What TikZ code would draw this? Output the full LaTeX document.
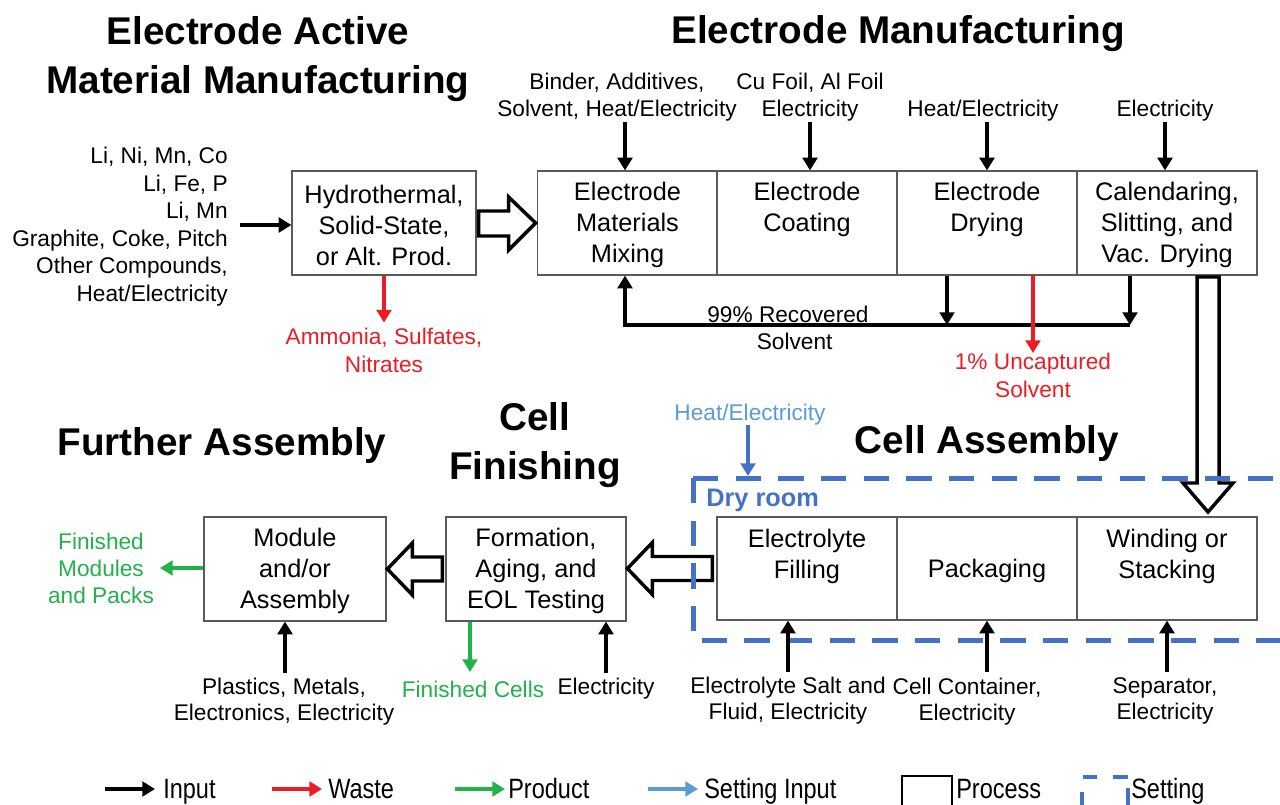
\documentclass[tikz,border=0pt]{standalone}
\usepackage{fontspec}
\setmainfont{Liberation Sans}
\newfontfamily\narrowfont[FakeStretch=0.84]{Liberation Sans}
\usetikzlibrary{arrows.meta}
\definecolor{wred}{RGB}{237,28,36}
\definecolor{pgreen}{RGB}{34,177,76}
\definecolor{sblue}{RGB}{68,114,196}
\definecolor{lblue}{RGB}{91,155,213}
\definecolor{boxgray}{RGB}{90,90,90}
\begin{document}
\begin{tikzpicture}[x=0.75pt,y=-0.75pt,
 title/.style={font=\fontsize{29}{36.75}\selectfont\bfseries, align=center, inner sep=0},
 body/.style={font=\fontsize{19}{23.25}\selectfont, align=center, inner sep=0},
 small/.style={font=\fontsize{17}{20.6}\selectfont, align=center, inner sep=0},
 legtext/.style={font=\narrowfont\fontsize{21}{24}\selectfont, anchor=base west, inner sep=0},
 proc/.style={draw=boxgray, line width=0.9pt, inner sep=0, minimum height=78pt, minimum width=135pt},
 flow/.style={line width=2.3pt, -{Triangle[length=9.5pt,width=11pt]}},
 inarrow/.style={flow, draw=black},
 wastearrow/.style={flow, draw=wred, color=wred},
 prodarrow/.style={flow, draw=pgreen, color=pgreen},
 setarrow/.style={flow, draw=sblue, color=sblue},
 legsetarrow/.style={flow, draw=lblue, color=lblue},
 hollow/.style={draw=black, line width=2.6pt, fill=white, line join=miter},
 setting/.style={draw=sblue, line width=3.75pt, dash pattern=on 19pt off 13pt}
]
\useasboundingbox (0,0) rectangle (1280,805);

% ---------- titles ----------
\node[title] (tEAM) at (258,59) {Electrode Active\\Material Manufacturing};
\node[title] (tEM) at (898,34) {Electrode Manufacturing};
\node[title] (tCA) at (987,444) {Cell Assembly};
\node[title] (tCF) at (535,445) {Cell\\Finishing};
\node[title] (tFA) at (222,446) {Further Assembly};

% ---------- process boxes (top row) ----------
\node[proc, minimum width=138pt] (hyd) at (384,223) {};
\node[proc] (mix) at (627.5,223) {};
\node[proc] (coat) at (807,223) {};
\node[proc] (dry) at (987,223) {};
\node[proc] (cal) at (1167,223) {};
\node[body] (hydT) at (384,225) {Hydrothermal,\\Solid-State,\\or Alt. Prod.};
\node[body] (mixT) at (627.5,225) {Electrode\\Materials\\Mixing};
\node[body] (coatT) at (807,209.5) {Electrode\\Coating};
\node[body] (dryT) at (987,209.5) {Electrode\\Drying};
\node[body] (calT) at (1167,225) {Calendaring,\\Slitting, and\\Vac. Drying};

% ---------- process boxes (bottom row) ----------
\node[proc, minimum height=77.25pt] (fill) at (807,568.5) {};
\node[proc, minimum height=77.25pt] (pack) at (987,568.5) {};
\node[proc, minimum height=77.25pt] (wind) at (1167,568.5) {};
\node[proc, minimum height=78pt] (form) at (536,569) {};
\node[proc, minimum height=78pt, minimum width=136.5pt] (mod) at (295,569) {};
\node[body] (fillT) at (807,556) {Electrolyte\\Filling};
\node[body] (packT) at (987,571) {Packaging};
\node[body] (windT) at (1167,556) {Winding or\\Stacking};
\node[body] (formT) at (536,571) {Formation,\\Aging, and\\EOL Testing};
\node[body] (modT) at (295,571) {Module\\and/or\\Assembly};

% ---------- left inputs ----------
\node[small, align=right, anchor=east] (leftIn) at (228,226.5)
 {Li, Ni, Mn, Co\\Li, Fe, P\\Li, Mn\\Graphite, Coke, Pitch\\Other Compounds,\\Heat/Electricity};
\coordinate (inL) at (240,225);
\draw[inarrow] (inL) -- (inL -| hyd.west);

% waste of hydrothermal
\node[small, text=wred] (ammo) at (384,350.5) {Ammonia, Sulfates,\\Nitrates};
\draw[wastearrow] (hyd.south) -- ++(0,47);

% hollow arrow hyd -> mix
\path (hyd.east) ++(2,0) coordinate (h1);
\draw[hollow] (h1) ++(0,-12) -- ++(30,0) -- ++(0,-14) -- ++(27,26) -- ++(-27,27) -- ++(0,-14) -- ++(-30,0) -- cycle;

% ---------- top inputs ----------
\node[small] (inMix) at (617,97) {Binder, Additives,\\Solvent, Heat/Electricity};
\node[small] (inCoat) at (810,97) {Cu Foil, Al Foil\\Electricity};
\node[small] (inDry) at (983,111) {Heat/Electricity};
\node[small] (inCal) at (1165,111) {Electricity};
\coordinate (a1) at (625,122);
\coordinate (a2) at (810,122);
\coordinate (a3) at (987,122);
\coordinate (a4) at (1165,122);
\draw[inarrow] (a1) -- (a1 |- mix.north);
\draw[inarrow] (a2) -- (a2 |- coat.north);
\draw[inarrow] (a3) -- (a3 |- dry.north);
\draw[inarrow] (a4) -- (a4 |- cal.north);

% ---------- solvent recovery ----------
\coordinate (r1) at (947,325);
\coordinate (r2) at (1130,325);
\coordinate (r0) at (625,325);
\draw[inarrow] (r1 |- dry.south) -- (r1);
\draw[inarrow] (r2 |- cal.south) -- (r2);
\draw[inarrow] (r2) -- (r0) -- (r0 |- mix.south);
\node[small] (recov) at (788,328) {99\% Recovered\\\hspace*{10pt}Solvent};
\coordinate (u1) at (1033,353);
\draw[wastearrow] (u1 |- dry.south) -- (u1);
\node[small, text=wred] (uncap) at (1033,375.5) {1\% Uncaptured\\Solvent};

% hollow arrow cal -> wind (down)
\coordinate (dA) at (1208,277);
\draw[hollow] (dA) ++(-11,0) -- ++(22,0) -- ++(0,206) -- ++(14,0) -- ++(-25,29) -- ++(-25,-29) -- ++(14,0) -- cycle;

% hollow arrows to the left
\path (fill.west) ++(-4,0) coordinate (f1);
\draw[hollow] (f1) ++(0,-12) -- ++(-60,0) -- ++(0,-14) -- ++(-25,26) -- ++(25,26) -- ++(0,-14) -- ++(60,0) -- cycle;
\path (form.west) ++(-3,0) coordinate (f2);
\draw[hollow] (f2) ++(0,-12) -- ++(-30,0) -- ++(0,-14) -- ++(-25,26) -- ++(25,26) -- ++(0,-14) -- ++(30,0) -- cycle;

% ---------- setting (dry room) ----------
\coordinate (sTL) at (693,478);
\coordinate (sBL) at (693,640);
\draw[setting] (sTL) -- (1282,478);
\draw[setting] (sTL) -- (sBL) -- (1282,640);
\node[font=\fontsize{19}{23}\selectfont\bfseries, text=sblue, anchor=west, inner sep=0] (dryroom) at (706,500) {Dry room};
\node[small, text=lblue] (heatB) at (750,415) {Heat/Electricity};
\coordinate (b1) at (748,425);
\draw[setarrow] (b1) -- (748,476);

% ---------- products ----------
\node[small, text=pgreen, font=\fontsize{17}{20.25}\selectfont] (finMod) at (101,568) {Finished\\Modules\\and Packs};
\coordinate (g0) at (160,568);
\draw[prodarrow] (g0 -| mod.west) -- (g0);
\coordinate (g1) at (470,672);
\draw[prodarrow] (g1 |- form.south) -- (g1);
\node[small, text=pgreen] (finCell) at (473,689) {Finished Cells};

% ---------- bottom inputs ----------
\node[small, font=\fontsize{17}{19.5}\selectfont] (inMod) at (284,702) {Plastics, Metals,\\Electronics, Electricity};
\node[small] (inForm) at (606,689) {Electricity};
\node[small, font=\fontsize{17}{19.5}\selectfont] (inFill) at (788,701) {Electrolyte Salt and\\Fluid, Electricity};
\node[small, font=\fontsize{17}{19.5}\selectfont] (inPack) at (967,702) {Cell Container,\\Electricity};
\node[small, font=\fontsize{17}{19.5}\selectfont] (inWind) at (1165,701) {Separator,\\Electricity};
\coordinate (c1) at (285,673);
\coordinate (c2) at (606,673);
\coordinate (c3) at (788,672);
\coordinate (c4) at (987,672);
\coordinate (c5) at (1167,672);
\draw[inarrow] (c1) -- (c1 |- mod.south);
\draw[inarrow] (c2) -- (c2 |- form.south);
\draw[inarrow] (c3) -- (c3 |- fill.south);
\draw[inarrow] (c4) -- (c4 |- pack.south);
\draw[inarrow] (c5) -- (c5 |- wind.south);

% ---------- legend ----------
\coordinate (l1a) at (105,789); \coordinate (l1b) at (155,789);
\coordinate (l2a) at (272,789); \coordinate (l2b) at (322,789);
\coordinate (l3a) at (455,789); \coordinate (l3b) at (505,789);
\coordinate (l4a) at (648,789); \coordinate (l4b) at (698,789);
\draw[inarrow] (l1a) -- (l1b);
\draw[wastearrow] (l2a) -- (l2b);
\draw[prodarrow] (l3a) -- (l3b);
\draw[legsetarrow] (l4a) -- (l4b);
\node[legtext] (lg1) at (163,798) {Input};
\node[legtext] (lg2) at (328,798) {Waste};
\node[legtext] (lg3) at (508,798) {Product};
\node[legtext] (lg4) at (704,798) {Setting Input};
\draw[draw=black, line width=1.2pt] (902,776) rectangle (952,815);
\node[legtext] (lg5) at (956,798) {Process};
\draw[draw=sblue, line width=3pt, dash pattern=on 11pt off 12pt] (1128,777) -- (1082,777) -- (1082,815);
\draw[draw=sblue, line width=3pt] (1128,788) -- (1128,805);
\node[legtext] (lg6) at (1131,798) {Setting};
\end{tikzpicture}
\end{document}
